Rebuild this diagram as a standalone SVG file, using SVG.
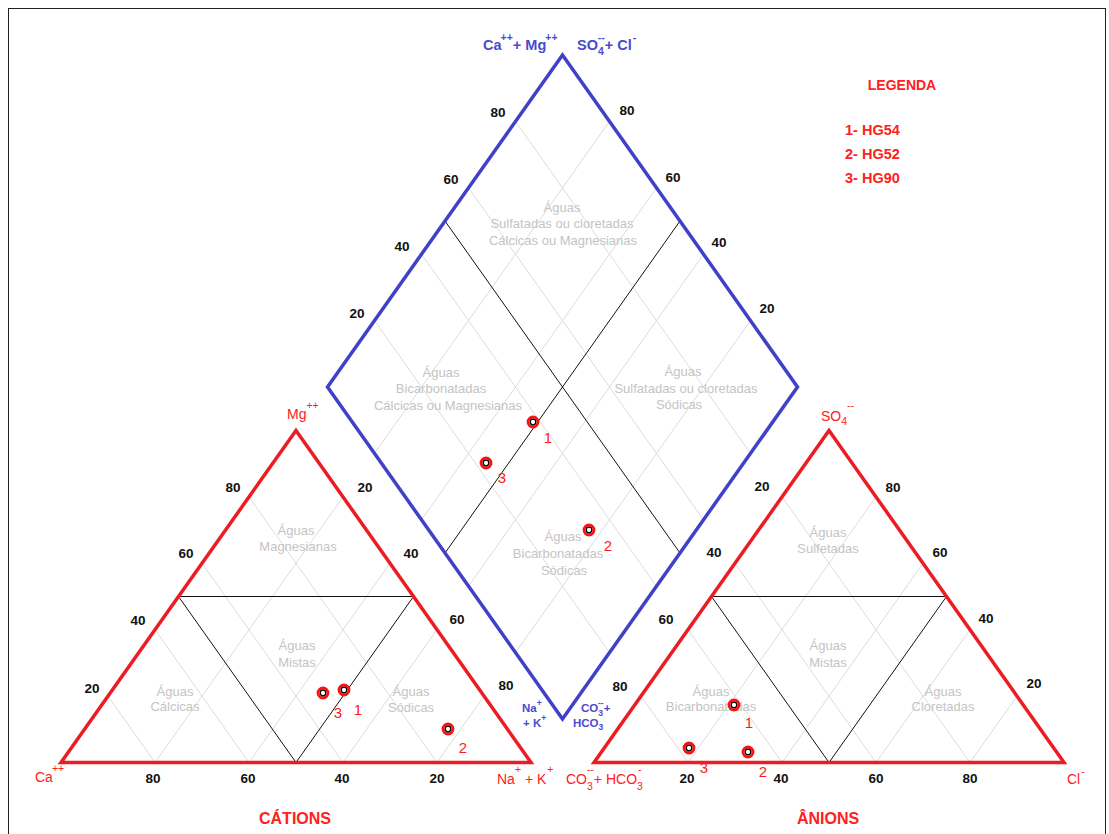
<svg xmlns="http://www.w3.org/2000/svg" width="1109" height="834" viewBox="0 0 1109 834">
<style>
.frame{fill:none;stroke:#222;stroke-width:1}
.grid{stroke:#dcdcdc;stroke-width:1;fill:none}
.div{stroke:#111;stroke-width:1;fill:none}
.tri{fill:none;stroke:#ec1c24;stroke-width:3.5;stroke-linejoin:miter;stroke-miterlimit:10}
.dia{fill:none;stroke:#4040c8;stroke-width:3.5;stroke-linejoin:miter;stroke-miterlimit:10}
.tick{font-family:"Liberation Sans",Arial,sans-serif;font-size:13.5px;font-weight:bold;fill:#111;text-anchor:middle}
.zone{font-family:"Liberation Sans",Arial,sans-serif;font-size:13px;fill:#c4c4c4;text-anchor:middle}
.rlab{font-family:"Liberation Sans",Arial,sans-serif;font-size:14px;fill:#ff2020}
.blab{font-family:"Liberation Sans",Arial,sans-serif;font-size:14.5px;font-weight:bold;fill:#4a4ad0}
.bsm{font-family:"Liberation Sans",Arial,sans-serif;font-size:11.5px;font-weight:bold;fill:#4a4ad0}
.leg{font-family:"Liberation Sans",Arial,sans-serif;font-weight:bold;fill:#ff2020}
.plab{font-family:"Liberation Sans",Arial,sans-serif;font-size:15px;fill:#ff1a1a;text-anchor:middle}
.title{font-family:"Liberation Sans",Arial,sans-serif;font-size:16px;font-weight:bold;fill:#ff2020;text-anchor:middle}
.ptO{fill:#fff;stroke:#ff1010;stroke-width:2.8}
.ptI{fill:#fff;stroke:#000;stroke-width:1.3}
</style>
<defs>
<g id="triGrid">
<line class="grid" x1="155" y1="762.5" x2="343" y2="496.9"/>
<line class="grid" x1="249" y1="762.5" x2="390" y2="563.3"/>
<line class="grid" x1="343" y1="762.5" x2="437" y2="629.7"/>
<line class="grid" x1="437" y1="762.5" x2="484" y2="696.1"/>
<line class="grid" x1="155" y1="762.5" x2="108" y2="696.1"/>
<line class="grid" x1="249" y1="762.5" x2="155" y2="629.7"/>
<line class="grid" x1="343" y1="762.5" x2="202" y2="563.3"/>
<line class="grid" x1="437" y1="762.5" x2="249" y2="496.9"/>
<path class="div" d="M178.5,596.5 L413.5,596.5 L296,762.5 Z"/>
<path class="tri" d="M61,762.5 L531,762.5 L296,430.5 Z"/>
</g>
</defs>
<rect class="frame" x="8.5" y="8.5" width="1097" height="840"/>

<g id="diamond-grid">
<line class="grid" x1="609.5" y1="652.6" x2="374.5" y2="320.6"/>
<line class="grid" x1="656.5" y1="586.2" x2="421.5" y2="254.2"/>
<line class="grid" x1="703.5" y1="519.8" x2="468.5" y2="187.8"/>
<line class="grid" x1="750.5" y1="453.4" x2="515.5" y2="121.4"/>
<line class="grid" x1="515.5" y1="652.6" x2="750.5" y2="320.6"/>
<line class="grid" x1="468.5" y1="586.2" x2="703.5" y2="254.2"/>
<line class="grid" x1="421.5" y1="519.8" x2="656.5" y2="187.8"/>
<line class="grid" x1="374.5" y1="453.4" x2="609.5" y2="121.4"/>
<line class="div" x1="680" y1="553" x2="445" y2="221"/>
<line class="div" x1="445" y1="553" x2="680" y2="221"/>
</g>

<g id="cations-triangle">
<use href="#triGrid"/>
</g>
<g id="anions-triangle">
<use href="#triGrid" transform="translate(533,0)"/>
</g>
<g id="diamond">
<path class="dia" d="M562.5,719 L327.5,387 L562.5,55 L797.5,387 Z"/>
</g>

<g id="ticks">
<text class="tick" x="498" y="116.5">80</text>
<text class="tick" x="451" y="183.5">60</text>
<text class="tick" x="402" y="250.5">40</text>
<text class="tick" x="357" y="317.5">20</text>
<text class="tick" x="627" y="114.5">80</text>
<text class="tick" x="673" y="181.5">60</text>
<text class="tick" x="719" y="246.5">40</text>
<text class="tick" x="767" y="312.5">20</text>
<text class="tick" x="233" y="491.5">80</text>
<text class="tick" x="186" y="557.5">60</text>
<text class="tick" x="138" y="624.5">40</text>
<text class="tick" x="92" y="692.5">20</text>
<text class="tick" x="365" y="491.5">20</text>
<text class="tick" x="411" y="557.5">40</text>
<text class="tick" x="457" y="623.5">60</text>
<text class="tick" x="506" y="689.5">80</text>
<text class="tick" x="153" y="782.5">80</text>
<text class="tick" x="248" y="782.5">60</text>
<text class="tick" x="342" y="782.5">40</text>
<text class="tick" x="437" y="782.5">20</text>
<text class="tick" x="762" y="490.5">20</text>
<text class="tick" x="714" y="556.5">40</text>
<text class="tick" x="666" y="623.5">60</text>
<text class="tick" x="620" y="690.5">80</text>
<text class="tick" x="893" y="491.5">80</text>
<text class="tick" x="940" y="556.5">60</text>
<text class="tick" x="986" y="622.5">40</text>
<text class="tick" x="1034" y="687.5">20</text>
<text class="tick" x="687" y="782.5">20</text>
<text class="tick" x="781" y="782.5">40</text>
<text class="tick" x="876" y="782.5">60</text>
<text class="tick" x="970" y="782.5">80</text>
</g>

<g id="zones">
<text class="zone" x="562" y="212">Águas</text>
<text class="zone" x="562" y="228">Sulfatadas ou cloretadas</text>
<text class="zone" x="563" y="245">Cálcicas ou Magnesianas</text>
<text class="zone" x="441" y="377">Águas</text>
<text class="zone" x="441" y="393">Bicarbonatadas</text>
<text class="zone" x="448" y="410">Cálcicas ou Magnesianas</text>
<text class="zone" x="683" y="376">Águas</text>
<text class="zone" x="686" y="393">Sulfatadas ou cloretadas</text>
<text class="zone" x="679" y="409">Sódicas</text>
<text class="zone" x="563" y="541">Águas</text>
<text class="zone" x="558" y="558">Bicarbonatadas</text>
<text class="zone" x="564" y="575">Sódicas</text>
<text class="zone" x="296" y="535">Águas</text>
<text class="zone" x="298" y="551">Magnesianas</text>
<text class="zone" x="297" y="650">Águas</text>
<text class="zone" x="297" y="667">Mistas</text>
<text class="zone" x="175" y="696">Águas</text>
<text class="zone" x="175" y="711">Cálcicas</text>
<text class="zone" x="411" y="696">Águas</text>
<text class="zone" x="411" y="712">Sódicas</text>
<text class="zone" x="828" y="537">Águas</text>
<text class="zone" x="828" y="553">Sulfetadas</text>
<text class="zone" x="828" y="650">Águas</text>
<text class="zone" x="828" y="667">Mistas</text>
<text class="zone" x="711" y="696">Águas</text>
<text class="zone" x="711" y="711">Bicarbonatadas</text>
<text class="zone" x="943" y="696">Águas</text>
<text class="zone" x="943" y="711">Cloretadas</text>
</g>

<g id="axis-labels">
<text class="blab" x="483" y="50">Ca<tspan dx="-1" dy="-9" font-size="10.5">++</tspan><tspan dy="9">+ Mg</tspan><tspan dx="-1" dy="-9" font-size="10.5">++</tspan></text>
<text class="blab" x="577" y="50">SO<tspan dx="0" dy="5" font-size="10.5">4</tspan><tspan dx="-6" dy="-14" font-size="10.5">--</tspan><tspan dy="9">+ Cl</tspan><tspan dx="1" dy="-9" font-size="10.5">-</tspan></text>
<text class="rlab" x="35" y="782">Ca<tspan dx="-1" dy="-10" font-size="10.5">++</tspan></text>
<text class="rlab" x="287" y="419">Mg<tspan dy="-10" font-size="10.5">++</tspan></text>
<text class="rlab" x="821" y="421">SO<tspan dy="4" font-size="10.5">4</tspan><tspan dx="0" dy="-16" font-size="10.5">--</tspan></text>
<text class="rlab" x="497" y="784">Na<tspan dx="0" dy="-11" font-size="10.5">+</tspan><tspan dx="0" dy="11"> + K</tspan><tspan dx="1" dy="-11" font-size="10.5">+</tspan></text>
<text class="rlab" x="566" y="784">CO<tspan dy="6" font-size="10.5">3</tspan><tspan dx="-6" dy="-17" font-size="10.5">--</tspan><tspan dy="11">+ HCO</tspan><tspan dy="6" font-size="10.5">3</tspan><tspan dx="-5" dy="-17" font-size="10.5">-</tspan></text>
<text class="rlab" x="1067" y="784">Cl<tspan dx="1" dy="-9" font-size="10.5">-</tspan></text>
<text class="bsm" x="522" y="712">Na<tspan dy="-6" font-size="8.5">+</tspan></text>
<text class="bsm" x="523" y="727">+ K<tspan dy="-6" font-size="8.5">+</tspan></text>
<text class="bsm" x="581" y="712">CO<tspan dy="4" font-size="8.5">3</tspan><tspan dx="-5" dy="-10" font-size="8.5">--</tspan><tspan dy="6">+</tspan></text>
<text class="bsm" x="573" y="727">HCO<tspan dy="3" font-size="8.5">3</tspan></text>
</g>

<g id="legend">
<text class="leg" x="902" y="90" font-size="14" text-anchor="middle">LEGENDA</text>
<text class="leg" x="845" y="135" font-size="14.5">1- HG54</text>
<text class="leg" x="845" y="159" font-size="14.5">2- HG52</text>
<text class="leg" x="845" y="183" font-size="14.5">3- HG90</text>
</g>

<g id="titles">
<text class="title" x="295" y="824">CÁTIONS</text>
<text class="title" x="828" y="824">ÂNIONS</text>
</g>

<g id="samples">
<g id="p1-cat"><circle class="ptO" cx="344" cy="690" r="5"/><circle class="ptI" cx="344" cy="690" r="2.8"/><text class="plab" x="358" y="715">1</text></g>
<g id="p3-cat"><circle class="ptO" cx="323" cy="693" r="5"/><circle class="ptI" cx="323" cy="693" r="2.8"/><text class="plab" x="338" y="718">3</text></g>
<g id="p2-cat"><circle class="ptO" cx="448" cy="729" r="5"/><circle class="ptI" cx="448" cy="729" r="2.8"/><text class="plab" x="463" y="753">2</text></g>
<g id="p1-dia"><circle class="ptO" cx="533" cy="422" r="5"/><circle class="ptI" cx="533" cy="422" r="2.8"/><text class="plab" x="548" y="443">1</text></g>
<g id="p3-dia"><circle class="ptO" cx="486" cy="463" r="5"/><circle class="ptI" cx="486" cy="463" r="2.8"/><text class="plab" x="502" y="483">3</text></g>
<g id="p2-dia"><circle class="ptO" cx="589" cy="530" r="5"/><circle class="ptI" cx="589" cy="530" r="2.8"/><text class="plab" x="608" y="551">2</text></g>
<g id="p1-an"><circle class="ptO" cx="734" cy="705" r="5"/><circle class="ptI" cx="734" cy="705" r="2.8"/><text class="plab" x="749" y="728">1</text></g>
<g id="p3-an"><circle class="ptO" cx="689" cy="748" r="5"/><circle class="ptI" cx="689" cy="748" r="2.8"/><text class="plab" x="704" y="773">3</text></g>
<g id="p2-an"><circle class="ptO" cx="748" cy="752" r="5"/><circle class="ptI" cx="748" cy="752" r="2.8"/><text class="plab" x="763" y="777">2</text></g>
</g>
</svg>
